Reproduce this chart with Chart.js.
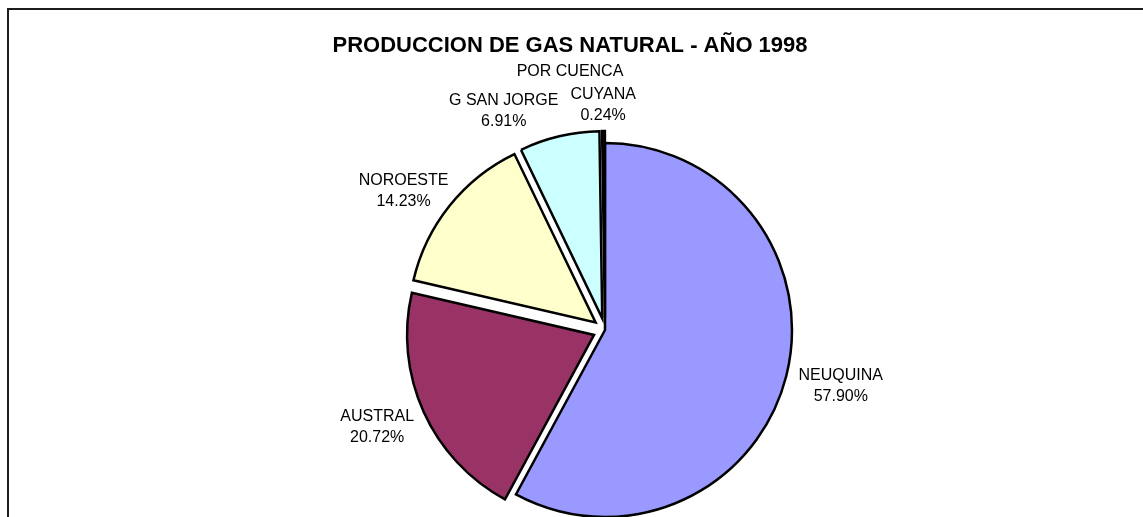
<!DOCTYPE html>
<html>
<head>
<meta charset="utf-8">
<title>Produccion de gas natural 1998</title>
<script src="https://cdn.jsdelivr.net/npm/chart.js@4/dist/chart.umd.min.js"></script>
<style>
  html, body { margin: 0; padding: 0; background: #fff; overflow: hidden; }
  #frame { position: absolute; left: 7px; top: 8px; right: -4px; bottom: -4px;
           border-left: 2px solid #1c1c1c; border-top: 2px solid #1c1c1c; }
  #pie { position: absolute; left: 0; top: 0; }
</style>
</head>
<body>
<div id="frame"></div>
<canvas id="pie" width="1143" height="517"></canvas>
<script>
// Data
var cuencas = ['NEUQUINA', 'AUSTRAL', 'NOROESTE', 'G SAN JORGE', 'CUYANA'];
var porcentajes = [57.90, 20.72, 14.23, 6.91, 0.24];
var titulo = 'PRODUCCION DE GAS NATURAL - AÑO 1998';
var subtitulo = 'POR CUENCA';

// Style
var colores = ['#9999FF', '#993366', '#FFFFCC', '#CCFFFF', '#660066'];
var separado = [0, 12, 12, 12, 12]; // px each slice is pulled out of the pie
var fuente = '"Liberation Sans", Arial, sans-serif';

// pull exploded slices out along their middle angle
var explotarPlugin = {
  id: 'explotar',
  afterDatasetUpdate: function(chart, args) {
    args.meta.data.forEach(function(arc, i) {
      var mid = (arc.startAngle + arc.endAngle) / 2;
      arc.x += Math.cos(mid) * separado[i];
      arc.y += Math.sin(mid) * separado[i];
    });
  }
};

// titles and outside-end labels (name + percentage)
var textosPlugin = {
  id: 'textos',
  afterDraw: function(chart) {
    var ctx = chart.ctx;
    ctx.save();
    ctx.fillStyle = '#000';
    ctx.textAlign = 'center';
    ctx.textBaseline = 'middle';
    ctx.font = 'bold 22px ' + fuente;
    ctx.fillText(titulo, 570, 46);
    ctx.font = '16px ' + fuente;
    ctx.fillText(subtitulo, 570, 72);

    var arcs = chart.getDatasetMeta(0).data;
    var cajas = [];
    arcs.forEach(function(arc, i) {
      var mid = (arc.startAngle + arc.endAngle) / 2;
      var dx = Math.cos(mid), dy = Math.sin(mid);
      var lineas = [cuencas[i], porcentajes[i].toFixed(2) + '%'];
      var w = Math.max(ctx.measureText(lineas[0]).width, ctx.measureText(lineas[1]).width);
      var h = 30;
      var d = arc.outerRadius + 14;
      cajas.push({
        x: arc.x + dx * d + dx * w / 2,
        y: arc.y + dy * d + dy * h / 2 + 3,
        w: w, h: h, lineas: lineas
      });
    });
    // push overlapping labels apart (leftmost one moves left)
    for (var i = 0; i < cajas.length; i++) {
      for (var j = i + 1; j < cajas.length; j++) {
        var a = cajas[i], b = cajas[j];
        var ox = (a.w + b.w) / 2 + 12 - Math.abs(a.x - b.x);
        var oy = (a.h + b.h) / 2 - Math.abs(a.y - b.y);
        if (ox > 0 && oy > 0) {
          if (a.x < b.x) a.x -= ox; else b.x -= ox;
        }
      }
    }
    cajas.forEach(function(c) {
      ctx.fillText(c.lineas[0], c.x, c.y - 10.5);
      ctx.fillText(c.lineas[1], c.x, c.y + 10.5);
    });
    ctx.restore();
  }
};

var ctx = document.getElementById('pie').getContext('2d');
var grafico = new Chart(ctx, {
  type: 'pie',
  data: {
    labels: cuencas,
    datasets: [{
      data: porcentajes,
      backgroundColor: colores,
      borderColor: '#000',
      borderWidth: 2.5,
      borderJoinStyle: 'miter',
      clip: false
    }]
  },
  options: {
    responsive: false,
    animation: false,
    devicePixelRatio: 1,
    radius: 187,
    layout: { padding: { left: 200, right: 133, top: 143, bottom: 0 } },
    plugins: {
      legend: { display: false },
      tooltip: { enabled: false },
      title: { display: false }
    },
    events: []
  },
  plugins: [explotarPlugin, textosPlugin]
});
</script>
</body>
</html>
